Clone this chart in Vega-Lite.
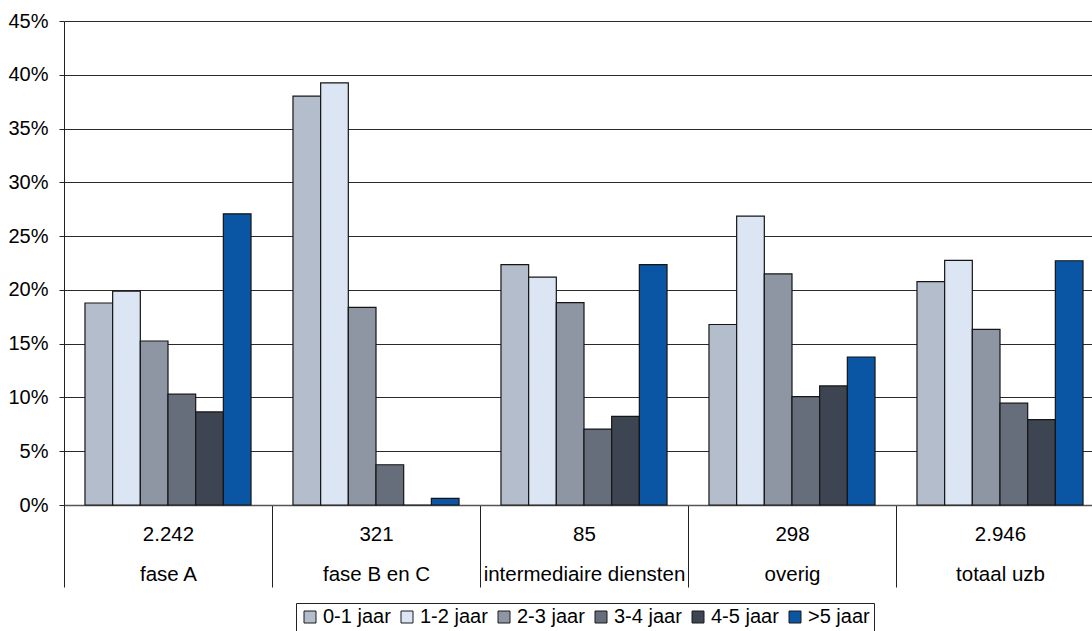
{
  "$schema": "https://vega.github.io/schema/vega-lite/v6.json",
  "autosize": {"type": "none"},
  "width": 1028,
  "height": 484,
  "padding": {"left": 64, "top": 21, "right": 0, "bottom": 126},
  "background": "white",
  "config": {"view": {"stroke": null}, "font": "Liberation Sans"},
  "data": {
    "values": [
      {"categorie": "fase A", "aantal": "2.242", "leeftijd": "0-1 jaar", "aandeel": 0.1878},
      {"categorie": "fase A", "aantal": "2.242", "leeftijd": "1-2 jaar", "aandeel": 0.1989},
      {"categorie": "fase A", "aantal": "2.242", "leeftijd": "2-3 jaar", "aandeel": 0.1525},
      {"categorie": "fase A", "aantal": "2.242", "leeftijd": "3-4 jaar", "aandeel": 0.1030},
      {"categorie": "fase A", "aantal": "2.242", "leeftijd": "4-5 jaar", "aandeel": 0.0865},
      {"categorie": "fase A", "aantal": "2.242", "leeftijd": ">5 jaar", "aandeel": 0.2707},
      {"categorie": "fase B en C", "aantal": "321", "leeftijd": "0-1 jaar", "aandeel": 0.3801},
      {"categorie": "fase B en C", "aantal": "321", "leeftijd": "1-2 jaar", "aandeel": 0.3925},
      {"categorie": "fase B en C", "aantal": "321", "leeftijd": "2-3 jaar", "aandeel": 0.1838},
      {"categorie": "fase B en C", "aantal": "321", "leeftijd": "3-4 jaar", "aandeel": 0.0374},
      {"categorie": "fase B en C", "aantal": "321", "leeftijd": "4-5 jaar", "aandeel": 0.0},
      {"categorie": "fase B en C", "aantal": "321", "leeftijd": ">5 jaar", "aandeel": 0.0062},
      {"categorie": "intermediaire diensten", "aantal": "85", "leeftijd": "0-1 jaar", "aandeel": 0.2235},
      {"categorie": "intermediaire diensten", "aantal": "85", "leeftijd": "1-2 jaar", "aandeel": 0.2118},
      {"categorie": "intermediaire diensten", "aantal": "85", "leeftijd": "2-3 jaar", "aandeel": 0.1882},
      {"categorie": "intermediaire diensten", "aantal": "85", "leeftijd": "3-4 jaar", "aandeel": 0.0706},
      {"categorie": "intermediaire diensten", "aantal": "85", "leeftijd": "4-5 jaar", "aandeel": 0.0824},
      {"categorie": "intermediaire diensten", "aantal": "85", "leeftijd": ">5 jaar", "aandeel": 0.2235},
      {"categorie": "overig", "aantal": "298", "leeftijd": "0-1 jaar", "aandeel": 0.1678},
      {"categorie": "overig", "aantal": "298", "leeftijd": "1-2 jaar", "aandeel": 0.2685},
      {"categorie": "overig", "aantal": "298", "leeftijd": "2-3 jaar", "aandeel": 0.2148},
      {"categorie": "overig", "aantal": "298", "leeftijd": "3-4 jaar", "aandeel": 0.1007},
      {"categorie": "overig", "aantal": "298", "leeftijd": "4-5 jaar", "aandeel": 0.1107},
      {"categorie": "overig", "aantal": "298", "leeftijd": ">5 jaar", "aandeel": 0.1376},
      {"categorie": "totaal uzb", "aantal": "2.946", "leeftijd": "0-1 jaar", "aandeel": 0.2077},
      {"categorie": "totaal uzb", "aantal": "2.946", "leeftijd": "1-2 jaar", "aandeel": 0.2274},
      {"categorie": "totaal uzb", "aantal": "2.946", "leeftijd": "2-3 jaar", "aandeel": 0.1633},
      {"categorie": "totaal uzb", "aantal": "2.946", "leeftijd": "3-4 jaar", "aandeel": 0.0947},
      {"categorie": "totaal uzb", "aantal": "2.946", "leeftijd": "4-5 jaar", "aandeel": 0.0794},
      {"categorie": "totaal uzb", "aantal": "2.946", "leeftijd": ">5 jaar", "aandeel": 0.2271}
    ]
  },
  "transform": [{"calculate": "datum.aantal + '|' + datum.categorie", "as": "groep"}],
  "mark": {"type": "bar", "stroke": "#151515", "strokeWidth": 1.2},
  "encoding": {
    "x": {
      "field": "groep",
      "type": "nominal",
      "sort": null,
      "scale": {"range": [0, 1040], "paddingInner": 0, "paddingOuter": 0},
      "axis": {
        "title": null,
        "labelExpr": "isValid(datum.value) ? split(datum.value, '|') : ''",
        "labelAngle": 0,
        "labelFontSize": 20.5,
        "labelColor": "#000000",
        "labelPadding": -63,
        "labelLineHeight": 40,
        "labelBaseline": "top",
        "labelLimit": 400,
        "labelOverlap": false,
        "labelBound": false,
        "tickBand": "extent",
        "tickSize": 82,
        "tickColor": "#222222",
        "tickWidth": 1,
        "domainColor": "#555555",
        "domainWidth": 1.5,
        "grid": false
      }
    },
    "xOffset": {"field": "leeftijd", "type": "nominal", "sort": null, "scale": {"paddingInner": 0, "paddingOuter": 0.758}},
    "y": {
      "field": "aandeel",
      "type": "quantitative",
      "scale": {"domain": [0, 0.45], "nice": false},
      "axis": {
        "title": null,
        "format": ".0%",
        "values": [0, 0.05, 0.1, 0.15, 0.2, 0.25, 0.3, 0.35, 0.4, 0.45],
        "labelFontSize": 20,
        "labelColor": "#000000",
        "labelPadding": 11,
        "tickSize": 5,
        "tickColor": "#222222",
        "domainColor": "#222222",
        "grid": true,
        "gridColor": "#2a2a2a",
        "gridWidth": 1
      }
    },
    "color": {
      "field": "leeftijd",
      "type": "nominal",
      "sort": null,
      "scale": {
        "domain": ["0-1 jaar", "1-2 jaar", "2-3 jaar", "3-4 jaar", "4-5 jaar", ">5 jaar"],
        "range": ["#b4bdcc", "#dce5f3", "#8e96a4", "#666e7b", "#3e4552", "#0b55a5"]
      },
      "legend": {
        "orient": "none",
        "legendX": 232,
        "legendY": 582,
        "direction": "horizontal",
        "title": null,
        "symbolType": "square",
        "symbolSize": 144,
        "symbolStrokeColor": "#1a1a1a",
        "symbolStrokeWidth": 1,
        "symbolOpacity": 1,
        "labelFontSize": 20,
        "labelColor": "#000000",
        "labelOffset": 3,
        "columnPadding": 6,
        "strokeColor": "#222222",
        "fillColor": "#ffffff",
        "padding": 4
      }
    }
  }
}
